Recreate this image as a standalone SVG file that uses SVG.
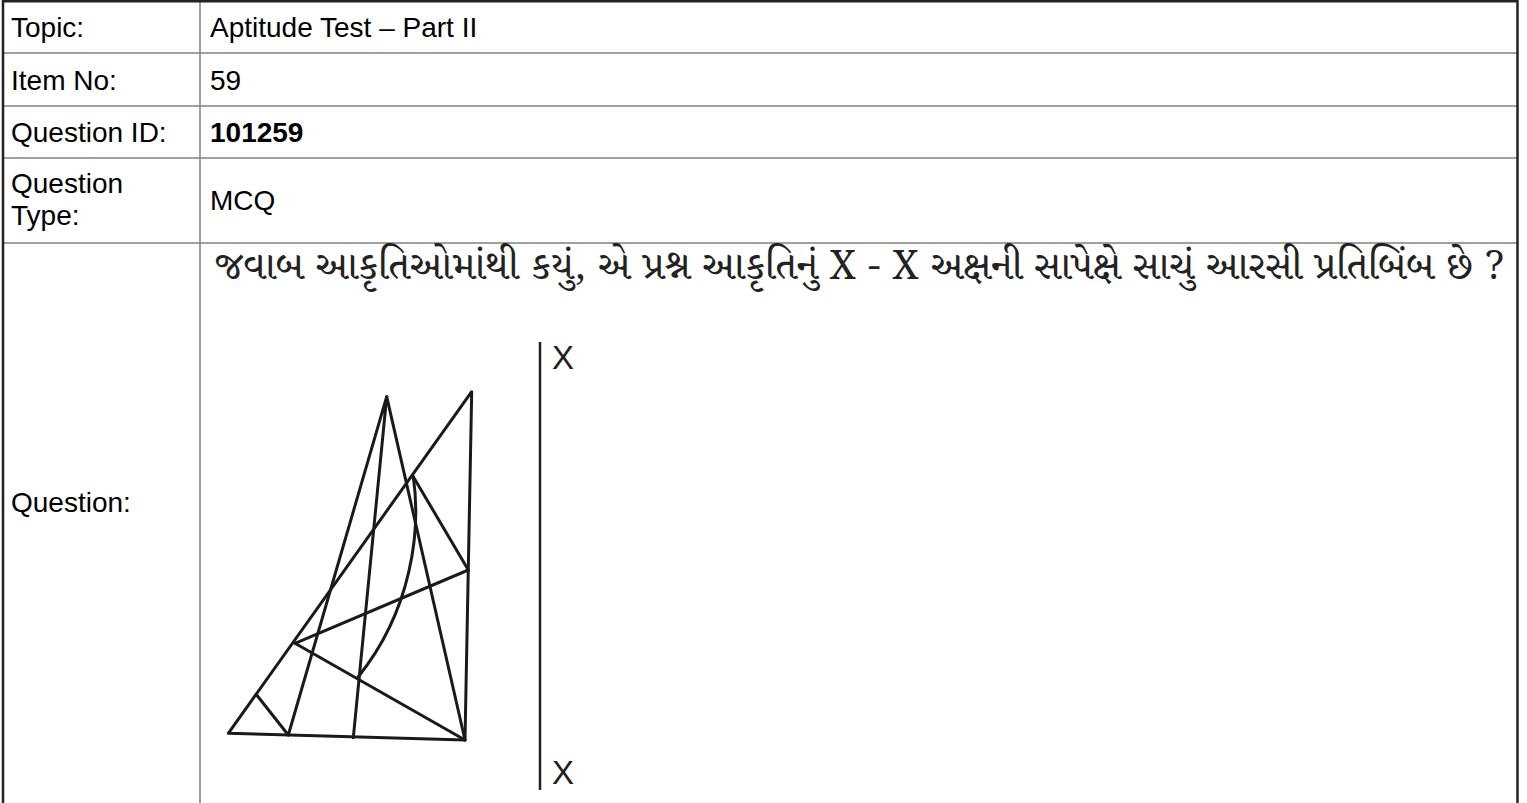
<svg xmlns="http://www.w3.org/2000/svg" width="1527" height="803" viewBox="0 0 1527 803">
<style>
.lbl{font-family:"Liberation Sans",Arial,sans-serif;font-size:28px;fill:#000}
.b{font-weight:bold}
.grid{stroke:#808080;stroke-width:1.5;fill:none}
.outer{stroke:#222;stroke-width:2.5;fill:none}
.fig{stroke:#1a1a1a;stroke-width:3;fill:none;stroke-linecap:round;stroke-linejoin:round}
.guj{font-family:"Noto Serif Gujarati","Noto Sans Gujarati","Lohit Gujarati","Noto Sans","DejaVu Sans",sans-serif;font-size:40px;fill:#222}
.xl{font-family:"Liberation Sans",Arial,sans-serif;font-size:33px;fill:#222}
</style>
<rect x="0" y="0" width="1527" height="803" fill="#fff"/>
<g id="table">
<line class="grid" x1="200" y1="1" x2="200" y2="803"/>
<line class="grid" x1="3" y1="53" x2="1518" y2="53"/>
<line class="grid" x1="3" y1="106" x2="1518" y2="106"/>
<line class="grid" x1="3" y1="158" x2="1518" y2="158"/>
<line class="grid" x1="3" y1="243" x2="1518" y2="243"/>
<path class="outer" d="M3 803 V1.2 H1517.5 V803"/>
</g>
<g id="row-topic">
<text class="lbl" x="11" y="37">Topic:</text>
<text class="lbl" x="210" y="37">Aptitude Test – Part II</text>
</g>
<g id="row-item">
<text class="lbl" x="11" y="90">Item No:</text>
<text class="lbl" x="210" y="90">59</text>
</g>
<g id="row-qid">
<text class="lbl" x="11" y="142">Question ID:</text>
<text class="lbl b" x="210" y="142">101259</text>
</g>
<g id="row-qtype">
<text class="lbl" x="11" y="193">Question</text>
<text class="lbl" x="11" y="225">Type:</text>
<text class="lbl" x="210" y="210">MCQ</text>
</g>
<g id="row-question">
<text class="lbl" x="11" y="512">Question:</text>
<text class="guj" x="215" y="279">જવાબ આકૃતિઓમાંથી કયું, એ પ્રશ્ન આકૃતિનું X - X અક્ષની સાપેક્ષે સાચું આરસી પ્રતિબિંબ છે ?</text>
</g>
<g id="figure">
<path class="fig" d="M228.3 733.3 L465 740 L471.7 391.7 Z"/>
<path class="fig" d="M288.3 735 L386.7 396.7 L353.3 737.7"/>
<path class="fig" d="M386.7 396.7 L465 740"/>
<path class="fig" d="M295 643.3 L468.3 570"/>
<path class="fig" d="M295 643.3 L465 740"/>
<path class="fig" d="M256.7 695 L288.3 735"/>
<path class="fig" d="M413.3 476.7 L468.3 570"/>
<path class="fig" d="M413.3 476.7 C421 530 412 610 358.3 676.7"/>
</g>
<g id="mirror">
<line x1="540" y1="342" x2="540" y2="790" stroke="#222" stroke-width="2.5"/>
<text class="xl" x="552" y="369">X</text>
<text class="xl" x="552" y="784">X</text>
</g>
</svg>
